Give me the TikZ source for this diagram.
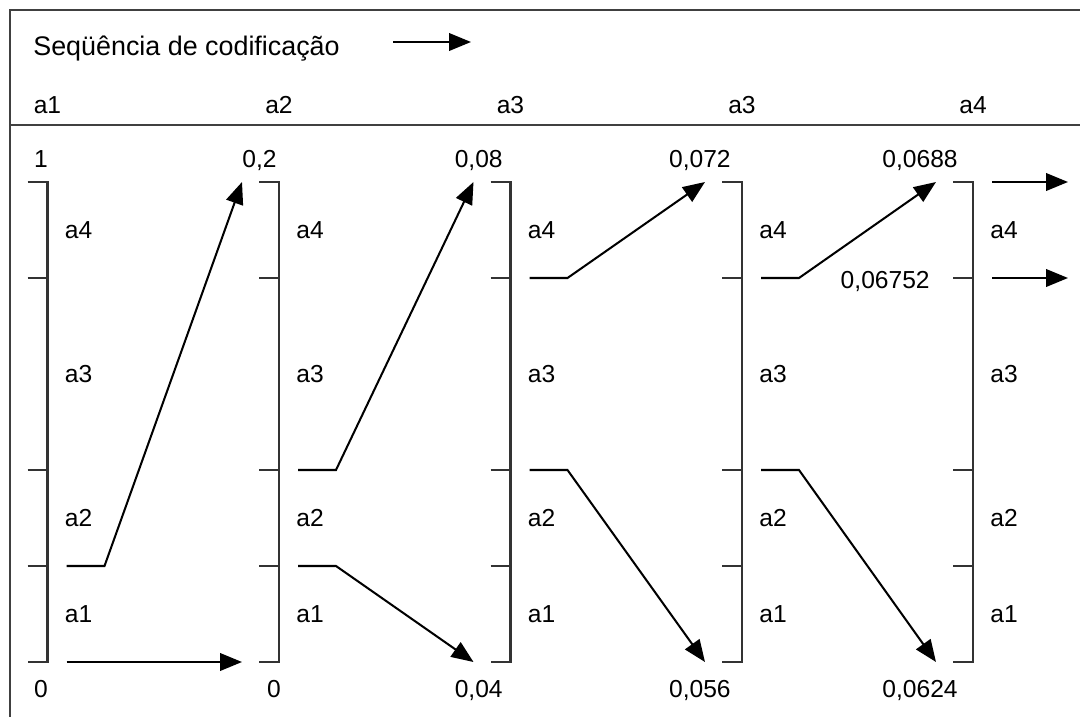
\documentclass[tikz,border=0pt]{standalone}
\usepackage{fontspec}
\setmainfont{Liberation Sans}
\usetikzlibrary{arrows.meta}

\begin{document}
\begin{tikzpicture}[x=0.02cm, y=-0.02cm, every node/.style={inner sep=0pt, font=\fontsize{14}{16}\selectfont}, frame/.style={line width=1.3pt, black!75}, bracket/.style={line width=1.4pt, black!80}, flow/.style={-{Stealth[length=12.5pt, width=10pt, inset=0pt]}, line width=1.15pt}, seg/.style={anchor=west}, val/.style={anchor=base east}]
    \useasboundingbox (0,0) rectangle (1080,717);

    % Header
    \draw[frame] (1080,10) -- (10,10) -- (10,717);
    \draw[frame] (10,125) -- (1080,125);
    \node[anchor=base west, font=\fontsize{15.3}{18}\selectfont] (seq) at (33,55) {Seqüência de codificação};
    \coordinate (hs) at (393,42);
    \coordinate (he) at (471,42);
    \draw[flow] (hs) -- (he);

    % Scales
    \foreach \i/\x/\c in {1/47.5/a1, 2/279/a2, 3/510.5/a3, 4/742/a3, 5/973/a4} {
        \node[anchor=base] (h\i) at (\x,113) {\c};
        \draw[bracket] (\x-20,182) -- (\x,182) -- (\x,662) -- (\x-20,662);
        \foreach \y in {278, 470, 566}
            \draw[bracket] (\x-20,\y) -- (\x,\y);
        \foreach \y/\k in {182/4, 278/3, 470/2, 566/1, 662/0} {
            \coordinate (o\i-\k) at (\x+19,\y);
            \coordinate (t\i-\k) at (\x-37,\y);
        }
        \foreach \y/\t in {230/a4, 374/a3, 518/a2, 614/a1}
            \node[seg] (n\i\t) at (\x+17,\y) {\t};
    }

    % Limits
    \node[anchor=base] (top1) at (41,167) {1};
    \node[val] (top2) at (277,167) {0,2};
    \node[val] (top3) at (503,167) {0,08};
    \node[val] (top4) at (731,167) {0,072};
    \node[val] (top5) at (958,167) {0,0688};
    \node[anchor=base] (bot1) at (41,697) {0};
    \node[anchor=base] (bot2) at (274,697) {0};
    \node[val] (bot3) at (503,697) {0,04};
    \node[val] (bot4) at (731,697) {0,056};
    \node[val] (bot5) at (958,697) {0,0624};
    \node[val] (mid5) at (930,288) {0,06752};

    % Arrows
    \draw[flow] (o1-0) -- (t2-0);
    \draw[flow] (o1-1) -- ++(38,0) -- (t2-4);
    \draw[flow] (o2-1) -- ++(38,0) -- (t3-0);
    \draw[flow] (o2-2) -- ++(38,0) -- (t3-4);
    \draw[flow] (o3-2) -- ++(38,0) -- (t4-0);
    \draw[flow] (o3-3) -- ++(38,0) -- (t4-4);
    \draw[flow] (o4-2) -- ++(38,0) -- (t5-0);
    \draw[flow] (o4-3) -- ++(38,0) -- (t5-4);
    \coordinate (e4) at (1068,182);
    \coordinate (e3) at (1068,278);
    \draw[flow] (o5-4) -- (e4);
    \draw[flow] (o5-3) -- (e3);
\end{tikzpicture}
\end{document}
